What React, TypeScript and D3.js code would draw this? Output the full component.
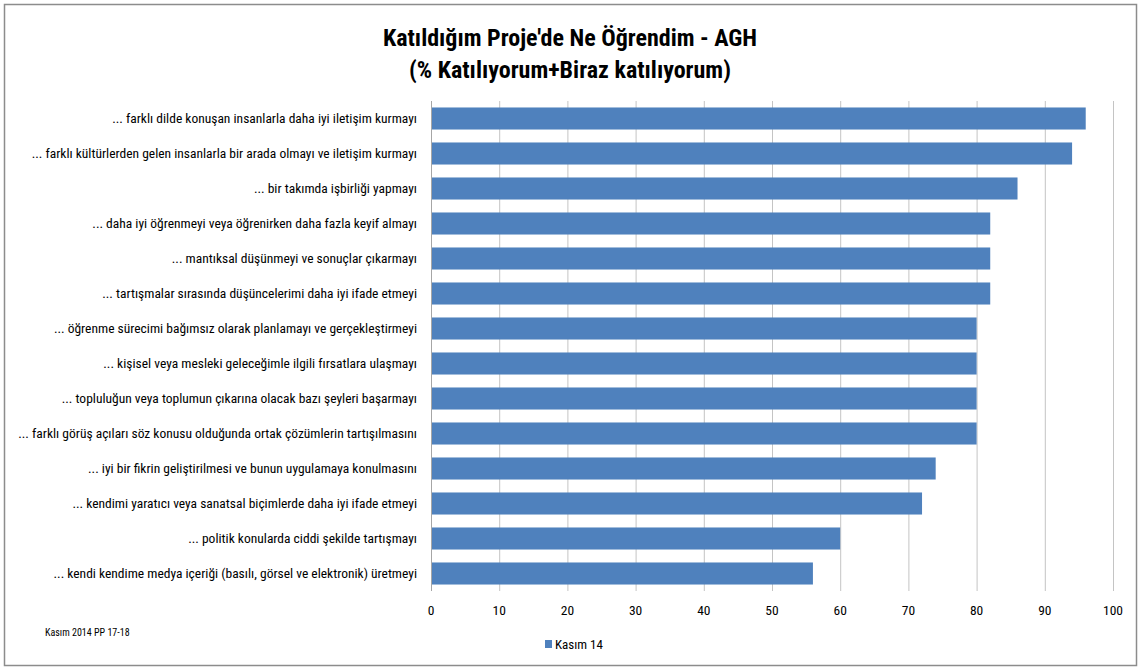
import React, { useRef, useEffect } from 'react';
import * as d3 from 'd3';

const categories = [
  '... farklı dilde konuşan insanlarla daha iyi iletişim kurmayı',
  '... farklı kültürlerden gelen insanlarla bir arada olmayı ve iletişim kurmayı',
  '... bir takımda işbirliği yapmayı',
  '... daha iyi öğrenmeyi veya öğrenirken daha fazla keyif almayı',
  '... mantıksal düşünmeyi ve sonuçlar çıkarmayı',
  '... tartışmalar sırasında düşüncelerimi daha iyi ifade etmeyi',
  '... öğrenme sürecimi bağımsız olarak planlamayı ve gerçekleştirmeyi',
  '... kişisel veya mesleki geleceğimle ilgili fırsatlara ulaşmayı',
  '... topluluğun veya toplumun çıkarına olacak bazı şeyleri başarmayı',
  '... farklı görüş açıları söz konusu olduğunda ortak çözümlerin tartışılmasını',
  '... iyi bir fikrin geliştirilmesi ve bunun uygulamaya konulmasını',
  '... kendimi yaratıcı veya sanatsal biçimlerde daha iyi ifade etmeyi',
  '... politik konularda ciddi şekilde tartışmayı',
  '... kendi kendime medya içeriği (basılı, görsel ve elektronik) üretmeyi',
];
const kasim14 = [96, 94, 86, 82, 82, 82, 80, 80, 80, 80, 74, 72, 60, 56];
const xTicks = [0, 10, 20, 30, 40, 50, 60, 70, 80, 90, 100];
const titleLines = ["Katıldığım Proje'de Ne Öğrendim - AGH", '(% Katılıyorum+Biraz katılıyorum)'];
const seriesName = 'Kasım 14';
const sourceNote = 'Kasım 2014  PP 17-18';

const W = 1140;
const H = 667;
const FONT = "'Liberation Sans Narrow', 'Roboto Condensed', 'Open Sans', sans-serif";

const App = () => {
  const svgRef = useRef<SVGSVGElement>(null);

  useEffect(() => {
    const svg = d3.select(svgRef.current);
    svg.selectAll('*').remove();
    const margin = { top: 101, left: 431, right: 27, bottom: 76 };

    svg.append('rect')
      .attr('x', 4.5).attr('y', 4.5)
      .attr('width', 1132).attr('height', 661)
      .attr('fill', '#fff').attr('stroke', '#8c8c8c').attr('stroke-width', 1.5);

    const x = d3.scaleLinear().domain([0, 100]).range([margin.left, W - margin.right]);
    const y = d3.scaleBand().domain(categories).range([margin.top, H - margin.bottom]).paddingInner(0.37).paddingOuter(0.185);
    const bottom = H - margin.bottom;

    // title
    svg.selectAll('text.title').data(titleLines).enter().append('text')
      .attr('class', 'title')
      .attr('x', 570).attr('y', (d, i) => 46 + i * 32)
      .attr('text-anchor', 'middle')
      .attr('font-family', FONT).attr('font-weight', 'bold').attr('font-size', 24)
      .attr('fill', '#000')
      .text(d => d);

    // gridlines
    svg.append('g').selectAll('line').data(xTicks.slice(1)).enter().append('line')
      .attr('x1', d => x(d) + 0.5).attr('x2', d => x(d) + 0.5)
      .attr('y1', margin.top).attr('y2', bottom)
      .attr('stroke', '#c4c4c4').attr('stroke-width', 1);

    // bars
    svg.append('g').selectAll('rect').data(kasim14).enter().append('rect')
      .attr('x', x(0))
      .attr('y', (d, i) => y(categories[i]))
      .attr('width', d => x(d) - x(0))
      .attr('height', y.bandwidth())
      .attr('fill', '#4f81bd');

    // y axis line
    svg.append('line')
      .attr('x1', x(0) + 0.5).attr('x2', x(0) + 0.5)
      .attr('y1', margin.top).attr('y2', bottom)
      .attr('stroke', '#a6a6a6');

    // category labels
    svg.append('g').selectAll('text').data(categories).enter().append('text')
      .attr('x', x(0) - 14)
      .attr('y', d => y(d) + y.bandwidth() / 2)
      .attr('dy', '0.35em')
      .attr('text-anchor', 'end')
      .attr('font-family', FONT).attr('font-size', 13.5)
      .attr('fill', '#000')
      .text(d => d);

    // tick labels
    svg.append('g').selectAll('text').data(xTicks).enter().append('text')
      .attr('x', d => x(d))
      .attr('y', bottom + 24)
      .attr('text-anchor', 'middle')
      .attr('font-family', FONT).attr('font-size', 13.5)
      .attr('fill', '#000')
      .text(d => d);

    // legend
    const lg = svg.append('g').attr('transform', 'translate(545,644)');
    lg.append('rect').attr('x', 0).attr('y', -4).attr('width', 7).attr('height', 8).attr('fill', '#4f81bd');
    lg.append('text').attr('x', 10).attr('y', 0).attr('dy', '0.35em')
      .attr('font-family', FONT).attr('font-size', 13).text(seriesName);

    // source note
    svg.append('text').attr('x', 45).attr('y', 636)
      .attr('font-family', FONT).attr('font-size', 10).text(sourceNote);
  }, []);

  return (
    <svg ref={svgRef} width={W} height={H}
      style={{ position: 'absolute', left: 0, top: 0, display: 'block' }} />
  );
};

export default App;
